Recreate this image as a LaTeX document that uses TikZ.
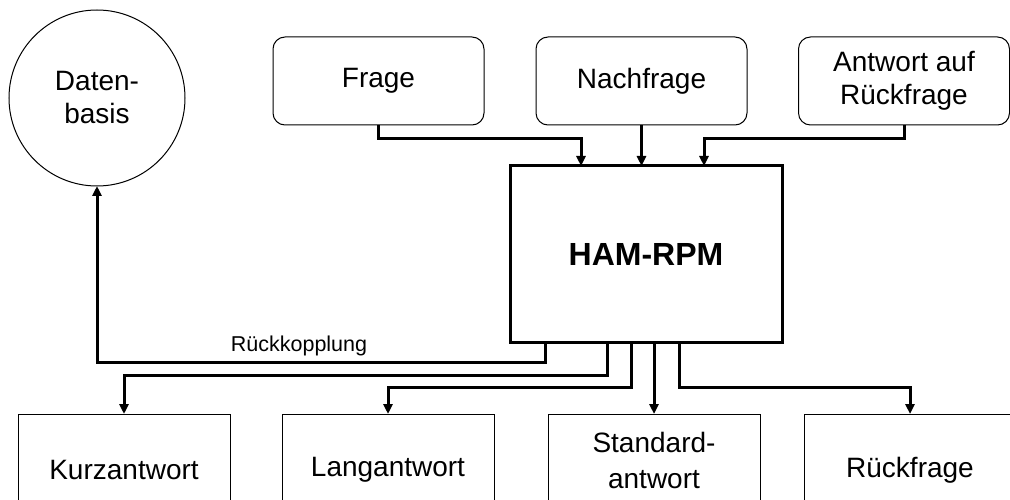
\documentclass[tikz,border=0pt]{standalone}
\usepackage{fontspec}
\setmainfont{Liberation Sans}
\usetikzlibrary{arrows.meta}
\begin{document}
\begin{tikzpicture}[x=1pt,y=-1pt,
  txt/.style={font=\fontsize{28pt}{33pt}\selectfont, align=center},
  topbox/.style={txt, draw, line width=1pt, rounded corners=12pt, inner sep=0pt, outer sep=0pt, minimum width=211pt, minimum height=88pt},
  botbox/.style={txt, draw, line width=1pt, inner sep=0pt, outer sep=0pt, minimum width=212pt, minimum height=112pt},
  hambox/.style={draw, line width=3pt, inner sep=0pt, outer sep=0pt, minimum width=272pt, minimum height=176pt, font=\fontsize{32pt}{38pt}\selectfont\bfseries},
  dbnode/.style={txt, draw, circle, line width=1pt, inner sep=0pt, outer sep=0pt, minimum size=176pt},
  conn/.style={line width=3pt},
  arr/.style={conn, -{Triangle[length=10pt,width=9pt]}},
  lbl/.style={font=\fontsize{21.5pt}{25pt}\selectfont}
]
\useasboundingbox (0,0) rectangle (1010,500);
\clip (0,0) rectangle (1010,500);

% nodes
\node[dbnode] (db) at (97,98) {Daten-\\basis};
\node[topbox] (frage) at (378.5,81) {Frage};
\node[topbox] (nach) at (641.5,81) {Nachfrage};
\node[topbox] (awrf) at (904,81) {Antwort auf\\Rückfrage};
\node[hambox] (ham) at (646,254) {HAM-RPM};
\node[botbox] (kurz) at (124,470) {Kurzantwort};
\node[botbox] (lang) at (388,470) {Langantwort};
\node[botbox, minimum height=92pt, font=\fontsize{28pt}{36pt}\selectfont] (std) at (654,460) {Standard-\\antwort};
\node[botbox] (rf) at (910,470) {Rückfrage};

% inputs
\coordinate (i1) at (581,139);
\coordinate (i3) at (704,139);
\draw[arr] (frage.south) |- (i1) -- (i1 |- ham.north);
\draw[arr] (nach.south) -- (nach.south |- ham.north);
\draw[arr] (awrf.south) |- (i3) -- (i3 |- ham.north);

% outputs
\coordinate (o1) at (545,362);
\coordinate (o2) at (607,375);
\coordinate (o3) at (631,387);
\coordinate (o4) at (654,387);
\coordinate (o5) at (679,387);
\draw[arr] (o1 |- ham.south) -- (o1) -| (db.south);
\draw[arr] (o2 |- ham.south) -- (o2) -| (kurz.north);
\draw[arr] (o3 |- ham.south) -- (o3) -| (lang.north);
\draw[arr] (o4 |- ham.south) -- (std.north);
\draw[arr] (o5 |- ham.south) -- (o5) -| (rf.north);

\node[lbl] (rk) at (299,346) {Rückkopplung};
\end{tikzpicture}
\end{document}
